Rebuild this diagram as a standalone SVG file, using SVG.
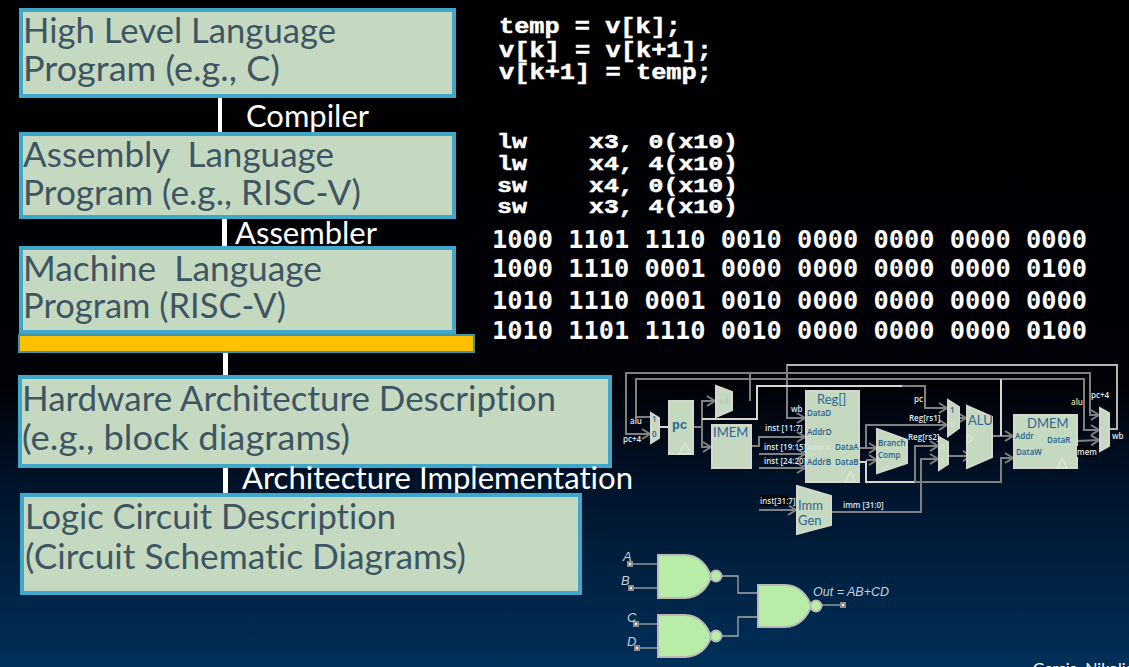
<svg xmlns="http://www.w3.org/2000/svg" width="1129" height="667" viewBox="0 0 1129 667">
<style>
.box{fill:#c5d9c1;stroke:#3fa7c9;stroke-width:4}
.t{font-family:Lato,"Open Sans",sans-serif;font-size:35px;fill:#3e5563;font-variant-ligatures:none}
.w{font-family:Lato,"Open Sans",sans-serif;font-size:30px;fill:#fff;font-variant-ligatures:none}
.c{font-family:"Liberation Mono",monospace;font-weight:bold;font-size:22px;fill:#fff;stroke:#fff;stroke-width:.5}
.a{font-family:"Liberation Mono",monospace;font-weight:bold;font-size:20px;fill:#fff;stroke:#fff;stroke-width:.5}
.b{font-family:"DejaVu Sans Mono",monospace;font-weight:bold;font-size:24px;fill:#fff}
.bar{fill:#fff}
.dp{fill:#c5d9c1;stroke:#d6d6cc;stroke-width:2}
.tri{fill:none;stroke:#dfe3d8;stroke-width:1.5}
.wire{fill:none;stroke:#808080;stroke-width:2}
.wa{fill:none;stroke:#808080;stroke-width:2;marker-end:url(#ah)}
.lw{fill:none;stroke:#d8d8d0;stroke-width:2}
.s{font-family:"Open Sans",sans-serif;font-size:8px;font-weight:600;fill:#dcecf8}
.i{font-family:"Open Sans",sans-serif;font-size:8px;font-weight:600;fill:#1f5f8f}
.f{font-family:"Open Sans",sans-serif;font-size:8px;fill:#dde8dd}
.m{font-family:Lato,sans-serif;font-size:13px;fill:#2f6690}
.g{fill:#b7eda6;stroke:#bdb8b8;stroke-width:2}
.gw{fill:none;stroke:#a8a8a8;stroke-width:1.3}
.p{fill:#fff;stroke:#8c8c8c;stroke-width:2}
.gl{font-family:"Liberation Sans",sans-serif;font-style:italic;font-size:13px;fill:#c9d0d8}
</style>
<defs>
<linearGradient id="bg" x1="0" y1="0" x2="0" y2="1">
<stop offset="0" stop-color="#000"/><stop offset="0.58" stop-color="#000208"/><stop offset="0.75" stop-color="#00162f"/><stop offset="1" stop-color="#00305a"/>
</linearGradient>
<marker id="ah" markerUnits="userSpaceOnUse" markerWidth="12" markerHeight="12" refX="10" refY="6" orient="auto">
<path d="M2,1 L10,6 L2,11" fill="none" stroke="#808080" stroke-width="2"/>
</marker>
</defs>
<rect width="1129" height="667" fill="url(#bg)"/>

<g id="connectors">
<rect class="bar" x="218" y="97" width="4" height="37"/>
<rect class="bar" x="222" y="218" width="5" height="28"/>
<rect class="bar" x="223" y="352" width="5" height="25"/>
<rect class="bar" x="223" y="466" width="5" height="28"/>
</g>

<g id="high-level"><rect class="box" x="21" y="10" width="433" height="86"/>
<text class="t" x="23" y="43" textLength="313" lengthAdjust="spacingAndGlyphs">High Level Language</text>
<text class="t" x="23" y="81" textLength="257" lengthAdjust="spacingAndGlyphs">Program (e.g., C)</text></g>
<text id="compiler" class="w" x="246" y="127" textLength="123" lengthAdjust="spacingAndGlyphs">Compiler</text>

<g id="assembly"><rect class="box" x="21" y="134" width="433" height="83"/>
<text class="t" x="23" y="167" textLength="311" lengthAdjust="spacingAndGlyphs" xml:space="preserve">Assembly  Language</text>
<text class="t" x="23" y="205" textLength="338" lengthAdjust="spacingAndGlyphs">Program (e.g., RISC-V)</text></g>
<text id="assembler" class="w" x="235" y="244" textLength="142" lengthAdjust="spacingAndGlyphs">Assembler</text>

<g id="machine"><rect class="box" x="21" y="248" width="433" height="84"/>
<text class="t" x="23" y="281" textLength="299" lengthAdjust="spacingAndGlyphs" xml:space="preserve">Machine  Language</text>
<text class="t" x="23" y="318" textLength="263" lengthAdjust="spacingAndGlyphs">Program (RISC-V)</text></g>
<rect id="highlight" x="19" y="335" width="455" height="17" fill="#ffc000" stroke="#3b93ad" stroke-width="2"/>

<g id="hardware"><rect class="box" x="20" y="377" width="590" height="89"/>
<text class="t" x="22" y="411" textLength="534" lengthAdjust="spacingAndGlyphs">Hardware Architecture Description</text>
<text class="t" x="22" y="450" textLength="328" lengthAdjust="spacingAndGlyphs">(e.g., block diagrams)</text></g>
<text id="arch-impl" class="w" x="242" y="489" textLength="391" lengthAdjust="spacingAndGlyphs">Architecture Implementation</text>

<g id="logic"><rect class="box" x="22" y="495" width="558" height="98"/>
<text class="t" x="25" y="529" textLength="371" lengthAdjust="spacingAndGlyphs">Logic Circuit Description</text>
<text class="t" x="25" y="569" textLength="441" lengthAdjust="spacingAndGlyphs">(Circuit Schematic Diagrams)</text></g>

<g id="c-code">
<text class="c" x="499" y="33" textLength="182" lengthAdjust="spacingAndGlyphs">temp = v[k];</text>
<text class="c" x="499" y="57" textLength="213" lengthAdjust="spacingAndGlyphs">v[k] = v[k+1];</text>
<text class="c" x="499" y="79" textLength="213" lengthAdjust="spacingAndGlyphs">v[k+1] = temp;</text>
</g>
<g id="assembly-code">
<text class="a" x="497" y="148" textLength="30" lengthAdjust="spacingAndGlyphs">lw</text><text class="a" x="589" y="148" textLength="149" lengthAdjust="spacingAndGlyphs">x3, 0(x10)</text>
<text class="a" x="497" y="170" textLength="30" lengthAdjust="spacingAndGlyphs">lw</text><text class="a" x="589" y="170" textLength="149" lengthAdjust="spacingAndGlyphs">x4, 4(x10)</text>
<text class="a" x="497" y="192" textLength="30" lengthAdjust="spacingAndGlyphs">sw</text><text class="a" x="589" y="192" textLength="149" lengthAdjust="spacingAndGlyphs">x4, 0(x10)</text>
<text class="a" x="497" y="213" textLength="30" lengthAdjust="spacingAndGlyphs">sw</text><text class="a" x="589" y="213" textLength="149" lengthAdjust="spacingAndGlyphs">x3, 4(x10)</text>
</g>
<g id="machine-code">
<text class="b" x="492" y="248" textLength="595" lengthAdjust="spacingAndGlyphs">1000 1101 1110 0010 0000 0000 0000 0000</text>
<text class="b" x="492" y="277" textLength="595" lengthAdjust="spacingAndGlyphs">1000 1110 0001 0000 0000 0000 0000 0100</text>
<text class="b" x="492" y="309" textLength="595" lengthAdjust="spacingAndGlyphs">1010 1110 0001 0010 0000 0000 0000 0000</text>
<text class="b" x="492" y="339" textLength="595" lengthAdjust="spacingAndGlyphs">1010 1101 1110 0010 0000 0000 0000 0100</text>
</g>

<g id="datapath-wires">
<polyline class="wa" points="750,401 750,373 626,373 626,434 650,434"/>
<polyline class="wa" points="750,373 1090,373 1090,415 1099,415"/>
<polyline class="wa" points="650,417 636,417 636,379 1084,379 1084,430 1099,430"/>
<polyline class="wa" points="1110,429 1117,429 1117,365 787,365 787,418 805,418"/>
<polyline class="lw" points="1110,429 1117,429 1117,365 787,365" stroke-opacity=".6"/>
<polyline class="lw" points="659,427 669,427"/>
<polyline class="wire" points="693,427 702,427"/>
<polyline class="wa" points="702,427 702,401 715,401"/>
<polyline class="wa" points="702,427 702,447 711,447"/>
<polyline class="lw" points="702,419 757,419 757,386 902,386"/>
<polyline class="wa" points="902,386 925,386 925,408 947,408"/>
<polyline class="wa" points="751,446 759,446 759,437 805,437"/>
<polyline class="wa" points="759,454 805,454"/>
<polyline class="wa" points="759,468 805,468"/>
<polyline class="wa" points="859,448 877,448"/>
<polyline class="wa" points="866,448 866,425 947,425"/>
<polyline class="lw" points="859,462 866,462 866,482 915,482"/>
<polyline class="wa" points="866,460 877,460"/>
<polyline class="wa" points="915,482 915,446 938,446"/>
<polyline class="wa" points="915,482 1001,482 1001,458 1013,458"/>
<polyline class="wa" points="759,510 796,510"/>
<polyline class="wa" points="831,512 921,512 921,459 938,459"/>
<polyline class="wa" points="959,418 966,418"/>
<polyline class="wa" points="948,456 971,456"/>
<polyline class="wa" points="992,436 1013,436"/>
<polyline class="lw" points="1001,436 1001,379"/>
<polyline class="wa" points="1077,441 1099,440"/>
</g>

<g id="mux-pc"><polygon class="dp" points="651,413 659,418 659,438 651,443"/><text class="i" x="652" y="422">1</text><text class="i" x="652" y="437">0</text></g>
<g id="pc"><rect class="dp" x="669" y="401" width="24" height="53"/><polygon class="tri" points="679,454 685,443 691,454"/><text x="672" y="429" font-family="Liberation Mono,monospace" font-weight="bold" font-size="13" fill="#2f6690">pc</text></g>
<g id="adder"><polygon class="dp" points="716,386 732,392 732,410 716,417"/><text x="718" y="405" font-family="Lato,sans-serif" font-size="10" fill="#b0c4b0">+4</text></g>
<g id="imem"><rect class="dp" x="712" y="425" width="39" height="43"/><text class="m" x="713" y="437">IMEM</text></g>
<g id="reg"><rect class="dp" x="806" y="391" width="53" height="91"/><polygon class="tri" points="845,482 850,472 855,482"/>
<text class="m" x="817" y="404">Reg[]</text>
<text class="i" x="807" y="416">DataD</text><text class="i" x="807" y="435">AddrD</text><text class="f" x="807" y="450">AddrA</text><text class="i" x="807" y="465">AddrB</text><text class="i" x="835" y="450">DataA</text><text class="i" x="835" y="465">DataB</text></g>
<g id="branch-comp"><polygon class="dp" points="877,429 907,440 907,463 877,473"/><text class="i" x="878" y="446">Branch</text><text class="i" x="878" y="458">Comp</text></g>
<g id="imm-gen"><polygon class="dp" points="797,486 831,496 831,525 797,534"/><text class="m" x="798" y="510">Imm</text><text class="m" x="798" y="525">Gen</text></g>
<g id="mux-a"><polygon class="dp" points="948,400 959,407 959,428 948,436"/><text class="i" x="950" y="413">1</text><text class="f" x="950" y="427">0</text></g>
<g id="mux-b"><polygon class="dp" points="939,437 948,442 948,464 939,470"/><text class="f" x="940" y="449">0</text><text class="f" x="940" y="463">1</text></g>
<g id="alu"><polygon class="dp" points="967,406 992,417 992,457 967,468"/><polygon class="tri" points="967,434 973,439 967,444"/><text class="m" x="968" y="425">ALU</text></g>
<g id="dmem"><rect class="dp" x="1014" y="415" width="63" height="53"/><polygon class="tri" points="1057,468 1062,458 1067,468"/>
<text class="m" x="1027" y="428">DMEM</text><text class="i" x="1015" y="439">Addr</text><text class="i" x="1016" y="455">DataW</text><text class="i" x="1047" y="443">DataR</text></g>
<g id="mux-wb"><polygon class="dp" points="1100,408 1109,413 1109,446 1100,451"/></g>

<g id="datapath-labels">
<text class="s" x="630" y="424">alu</text><text class="s" x="623" y="442">pc+4</text>
<text class="s" x="791" y="412">wb</text>
<text class="s" x="765" y="431">inst [11:7]</text><text class="s" x="764" y="450">inst [19:15]</text><text class="s" x="764" y="464">inst [24:20]</text>
<rect x="760" y="495" width="29" height="11" fill="#000"/><text class="s" x="760" y="504">inst[31:7]</text>
<text class="s" x="843" y="508">imm [31:0]</text>
<text class="s" x="914" y="402">pc</text><text class="s" x="909" y="421">Reg[rs1]</text><text class="s" x="908" y="440">Reg[rs2]</text>
<text class="s" x="1071" y="405" style="fill:#f0d890">alu</text><text class="s" x="1091" y="398">pc+4</text><text class="s" x="1112" y="439">wb</text>
<rect x="1077" y="446" width="19" height="11" fill="#000"/><text class="s" x="1077" y="455">mem</text>
</g>

<g id="gate-wires">
<polyline class="gw" points="722,576 738,576 738,593 758,593"/>
<polyline class="gw" points="722,636 738,636 738,617 758,617"/>
<polyline class="gw" points="822,605 840,605"/>
<polyline class="gw" points="630,564 658,564"/><polyline class="gw" points="631,588 658,588"/>
<polyline class="gw" points="636,624 658,624"/><polyline class="gw" points="637,648 658,648"/>
<rect class="p" x="628" y="562" width="4" height="4"/><rect class="p" x="629" y="586" width="4" height="4"/>
<rect class="p" x="634" y="622" width="4" height="4"/><rect class="p" x="635" y="646" width="4" height="4"/>
<rect class="p" x="841" y="603" width="4" height="4"/>
</g>
<g id="nand-1"><path class="g" d="M658,555 H685 C699,555 708,566 711,577 C708,587 699,598 685,598 H658 Z"/><circle class="g" cx="716" cy="576" r="5.5"/></g>
<g id="nand-2"><path class="g" d="M658,615 H685 C699,615 708,626 711,637 C708,647 699,657 685,657 H658 Z"/><circle class="g" cx="716" cy="636" r="5.5"/></g>
<g id="nand-3"><path class="g" d="M758,585 H785 C799,585 808,596 811,606 C808,616 799,627 785,627 H758 Z"/><circle class="g" cx="816" cy="606" r="5.5"/></g>
<g id="gate-labels">
<text class="gl" x="623" y="561" font-size="14">A</text><text class="gl" x="621" y="585">B</text><text class="gl" x="627" y="622">C</text><text class="gl" x="627" y="646">D</text>
<text class="gl" x="813" y="596" style="font-size:12.5px" textLength="76" lengthAdjust="spacingAndGlyphs">Out = AB+CD</text>
</g>
<text id="credit" x="1033" y="674" font-family="Lato,sans-serif" font-size="16" fill="#fff">Garcia, Nikolić</text>
</svg>
